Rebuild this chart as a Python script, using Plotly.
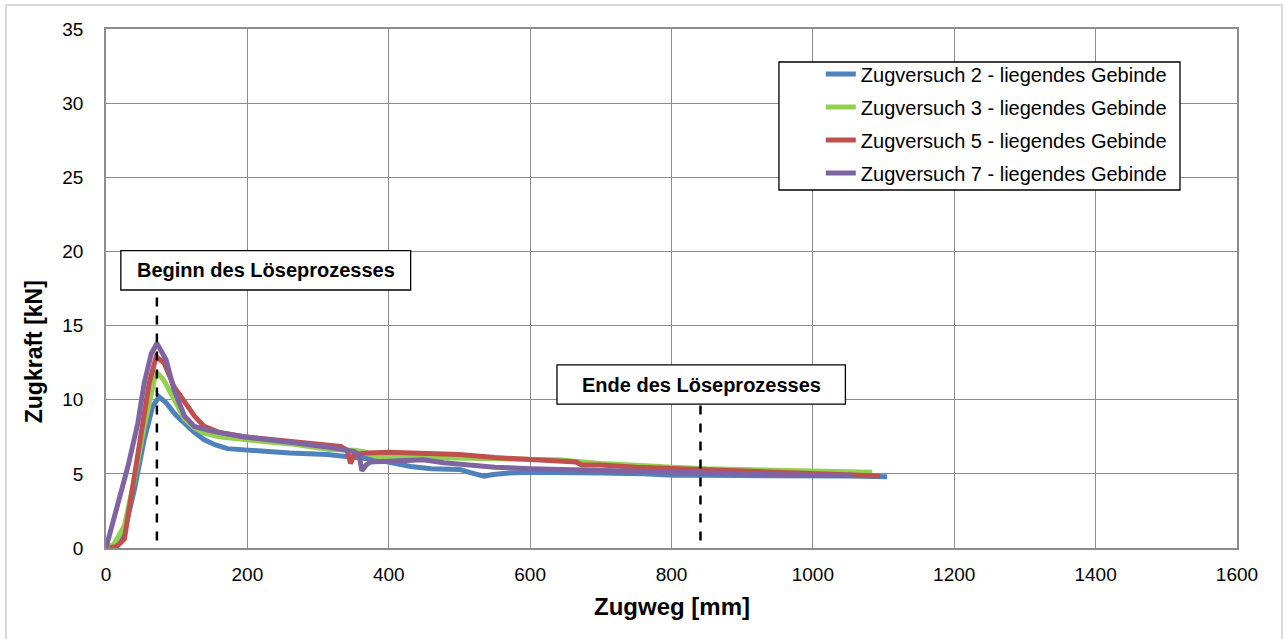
import plotly.graph_objects as go

# Zugweg [mm] / Zugkraft [kN]
zv2_x = [5, 15, 24, 32, 40, 54, 66, 75, 85, 98, 111, 125, 139, 155, 172, 195, 219, 260, 313, 350, 384, 410, 431, 460, 500, 522, 535, 548, 570, 600, 650, 700, 760, 803, 850, 900, 960, 1000, 1050, 1105]
zv2_y = [0.0, 0.1, 0.7, 2.2, 3.9, 7.3, 9.55, 10.2, 9.8, 9.0, 8.4, 7.8, 7.3, 6.95, 6.7, 6.6, 6.5, 6.4, 6.3, 6.15, 5.95, 5.7, 5.5, 5.35, 5.3, 5.0, 4.85, 4.95, 5.05, 5.1, 5.1, 5.05, 5.0, 4.9, 4.9, 4.9, 4.85, 4.85, 4.85, 4.8]

zv3_x = [2, 12, 26, 40, 54, 66, 71, 82, 96, 111, 125, 139, 160, 195, 230, 266, 316, 351, 365, 380, 397, 451, 500, 550, 600, 640, 700, 750, 803, 850, 900, 965, 1020, 1084]
zv3_y = [0.0, 0.3, 1.5, 4.6, 8.2, 11.1, 11.9, 11.3, 10.0, 8.7, 8.1, 7.75, 7.5, 7.3, 7.15, 7.0, 6.65, 6.6, 6.5, 6.2, 6.1, 6.1, 6.05, 6.0, 6.0, 5.95, 5.7, 5.55, 5.45, 5.35, 5.3, 5.2, 5.15, 5.1]

zv5_x = [5, 15, 26, 38, 49, 61, 71, 82, 96, 111, 125, 139, 160, 195, 230, 266, 300, 332, 341, 346, 351, 370, 400, 451, 500, 550, 600, 640, 665, 673, 700, 750, 803, 840, 900, 950, 1000, 1050, 1095]
zv5_y = [0.0, 0.1, 0.6, 4.2, 7.3, 11.1, 12.9, 12.5, 10.9, 9.8, 8.9, 8.2, 7.8, 7.5, 7.35, 7.2, 7.0, 6.85, 6.6, 5.7, 6.3, 6.4, 6.45, 6.4, 6.3, 6.1, 5.95, 5.85, 5.8, 5.6, 5.6, 5.45, 5.35, 5.3, 5.15, 5.05, 5.0, 4.9, 4.85]

zv7_x = [0, 7, 21, 31, 45, 54, 64, 72, 85, 96, 111, 125, 148, 195, 266, 316, 351, 358, 362, 368, 374, 397, 449, 478, 550, 600, 640, 700, 803, 900, 1000, 1057]
zv7_y = [0.0, 1.2, 3.7, 5.5, 8.4, 11.1, 13.1, 13.8, 12.7, 10.7, 8.9, 8.2, 7.9, 7.5, 7.1, 6.8, 6.5, 6.3, 5.2, 5.6, 5.8, 5.85, 5.95, 5.75, 5.45, 5.35, 5.3, 5.2, 5.05, 5.0, 4.9, 4.9]

series_names = [
    "Zugversuch 2 - liegendes Gebinde",
    "Zugversuch 3 - liegendes Gebinde",
    "Zugversuch 5 - liegendes Gebinde",
    "Zugversuch 7 - liegendes Gebinde",
]
series_x = [zv2_x, zv3_x, zv5_x, zv7_x]
series_y = [zv2_y, zv3_y, zv5_y, zv7_y]
colors = ["#4f81bd", "#92d050", "#c0504d", "#8064a2"]

x_ticks = [0, 200, 400, 600, 800, 1000, 1200, 1400, 1600]
y_ticks = [0, 5, 10, 15, 20, 25, 30, 35]

start_label = "Beginn des Löseprozesses"
start_x = 72
end_label = "Ende des Löseprozesses"
end_x = 841

FONT = "Liberation Sans, Arial, sans-serif"

fig = go.Figure()
for name, xs, ys, col in zip(series_names, series_x, series_y, colors):
    fig.add_trace(go.Scatter(
        x=xs, y=ys, mode="lines", name=name, legendgroup=name,
        line=dict(color=col, width=5),
    ))

# dashed markers and labelled boxes
fig.add_shape(type="line", x0=start_x, x1=start_x, y0=0.5, y1=17.4, xref="x", yref="y",
              line=dict(color="black", width=2.5, dash="dash"))
fig.add_shape(type="line", x0=end_x, x1=end_x, y0=0.5, y1=9.7, xref="x", yref="y",
              line=dict(color="black", width=2.5, dash="dash"))
fig.add_shape(type="rect", x0=21, x1=431, y0=17.4, y1=20.05, xref="x", yref="y",
              fillcolor="white", line=dict(color="black", width=1.3))
fig.add_shape(type="rect", x0=638, x1=1046, y0=9.7, y1=12.35, xref="x", yref="y",
              fillcolor="white", line=dict(color="black", width=1.3))
fig.add_annotation(x=226, y=18.72, xref="x", yref="y", text=start_label, showarrow=False,
                   font=dict(family=FONT, size=20, color="black", weight="bold"))
fig.add_annotation(x=842, y=11.02, xref="x", yref="y", text=end_label, showarrow=False,
                   font=dict(family=FONT, size=20, color="black", weight="bold"))

# legend frame
fig.add_shape(type="rect", x0=0.595, x1=0.9496, y0=0.6898, y1=0.9364, xref="paper", yref="paper",
              fillcolor="white", line=dict(color="black", width=1.3), layer="above")
# outer chart frame
fig.add_shape(type="rect", x0=-0.0884, x1=1.0398, y0=-0.19, y1=1.0462, xref="paper", yref="paper",
              line=dict(color="#d9d9d9", width=2), layer="below")

fig.add_annotation(x=-0.0637, y=0.379, xref="paper", yref="paper", text="Zugkraft [kN]",
                   textangle=-90, showarrow=False, xanchor="center", yanchor="middle",
                   font=dict(family=FONT, size=23, color="black", weight="bold"))
fig.add_annotation(x=0.5, y=-0.112, xref="paper", yref="paper", text="Zugweg [mm]",
                   showarrow=False, xanchor="center", yanchor="middle",
                   font=dict(family=FONT, size=24, color="black", weight="bold"))

fig.update_layout(
    width=1286, height=639,
    margin=dict(l=106, r=49, t=29, b=91),
    paper_bgcolor="white", plot_bgcolor="white",
    font=dict(family=FONT, size=19, color="black"),
    showlegend=True,
    legend=dict(
        x=0.632, y=0.951, xanchor="left", yanchor="top",
        bgcolor="rgba(0,0,0,0)", borderwidth=0,
        font=dict(family=FONT, size=20, color="black"),
        tracegroupgap=4,
    ),
    xaxis=dict(
        range=[0, 1600], tickvals=x_ticks, showgrid=True, gridcolor="#8c8c8c", gridwidth=1,
        showline=True, linecolor="#8c8c8c", linewidth=1.5, mirror=True, zeroline=False,
        ticks="", tickfont=dict(family=FONT, size=19, color="black"), ticklabelstandoff=8,
    ),
    yaxis=dict(
        range=[0, 35], tickvals=y_ticks, showgrid=True, gridcolor="#8c8c8c", gridwidth=1,
        showline=True, linecolor="#8c8c8c", linewidth=1.5, mirror=True, zeroline=False,
        ticks="", tickfont=dict(family=FONT, size=19, color="black"), ticklabelstandoff=17,
    ),
)

fig.write_html("out.html", config={"displayModeBar": False},
               post_script="document.body.style.margin='0';")
